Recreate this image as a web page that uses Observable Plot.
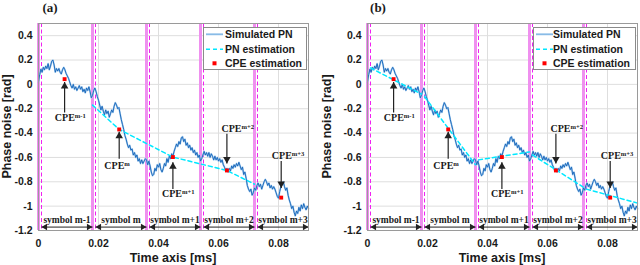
<!DOCTYPE html>
<html><head><meta charset="utf-8">
<script src="https://cdn.jsdelivr.net/npm/d3@7"></script>
<script src="https://cdn.jsdelivr.net/npm/@observablehq/plot@0.6"></script>
<style>
body{margin:0;background:#fff;}
#wrap{position:relative;width:640px;height:265px;overflow:hidden;}
#wrap svg{position:absolute;top:0;}
</style></head><body><div id="wrap"></div>
<script>
const xTicks=[0,0.02,0.04,0.06,0.08];
const yTicks=[-1.2,-1,-0.8,-0.6,-0.4,-0.2,0,0.2,0.4];
const symbolStart=[0,0.018,0.036,0.054,0.072];
const cpEnd=[0.001,0.019,0.037,0.055,0.073];
const symbolEnd=[0.018,0.036,0.054,0.072,0.09];
const symbolNames=["symbol m-1","symbol m","symbol m+1","symbol m+2","symbol m+3"];
const pnTime=[0,0.0004,0.0008,0.0012,0.0016,0.002,0.0024,0.0028,0.0032,0.0036,0.004,0.0044,0.0048,0.0052,0.0056,0.006,0.0064,0.0068,0.0072,0.0076,0.008,0.0084,0.0088,0.0092,0.0096,0.01,0.0104,0.0108,0.0112,0.0116,0.012,0.0124,0.0128,0.0132,0.0136,0.014,0.0144,0.0148,0.0152,0.0156,0.016,0.0164,0.0168,0.0172,0.0176,0.018,0.0184,0.0188,0.0192,0.0196,0.02,0.0204,0.0208,0.0212,0.0216,0.022,0.0224,0.0228,0.0232,0.0236,0.024,0.0244,0.0248,0.0252,0.0256,0.026,0.0264,0.0268,0.0272,0.0276,0.028,0.0284,0.0288,0.0292,0.0296,0.03,0.0304,0.0308,0.0312,0.0316,0.032,0.0324,0.0328,0.0332,0.0336,0.034,0.0344,0.0348,0.0352,0.0356,0.036,0.0364,0.0368,0.0372,0.0376,0.038,0.0384,0.0388,0.0392,0.0396,0.04,0.0404,0.0408,0.0412,0.0416,0.042,0.0424,0.0428,0.0432,0.0436,0.044,0.0444,0.0448,0.0452,0.0456,0.046,0.0464,0.0468,0.0472,0.0476,0.048,0.0484,0.0488,0.0492,0.0496,0.05,0.0504,0.0508,0.0512,0.0516,0.052,0.0524,0.0528,0.0532,0.0536,0.054,0.0544,0.0548,0.0552,0.0556,0.056,0.0564,0.0568,0.0572,0.0576,0.058,0.0584,0.0588,0.0592,0.0596,0.06,0.0604,0.0608,0.0612,0.0616,0.062,0.0624,0.0628,0.0632,0.0636,0.064,0.0644,0.0648,0.0652,0.0656,0.066,0.0664,0.0668,0.0672,0.0676,0.068,0.0684,0.0688,0.0692,0.0696,0.07,0.0704,0.0708,0.0712,0.0716,0.072,0.0724,0.0728,0.0732,0.0736,0.074,0.0744,0.0748,0.0752,0.0756,0.076,0.0764,0.0768,0.0772,0.0776,0.078,0.0784,0.0788,0.0792,0.0796,0.08,0.0804,0.0808,0.0812,0.0816,0.082,0.0824,0.0828,0.0832,0.0836,0.084,0.0844,0.0848,0.0852,0.0856,0.086,0.0864,0.0868,0.0872,0.0876,0.088,0.0884,0.0888,0.0892,0.0896,0.09];
const pnValue=[0.02,0.08,0.125,0.10,0.14,0.12,0.15,0.13,0.17,0.12,0.15,0.19,0.20,0.16,0.10,0.13,0.11,0.13,0.10,0.085,0.12,0.14,0.12,0.09,0.07,0.05,0.02,-0.01,-0.03,0.00,-0.04,-0.02,-0.05,-0.03,-0.01,-0.04,-0.02,-0.06,-0.04,-0.07,-0.03,-0.05,-0.02,-0.06,-0.11,-0.09,-0.05,-0.03,-0.06,-0.10,-0.13,-0.17,-0.21,-0.18,-0.22,-0.25,-0.21,-0.24,-0.22,-0.27,-0.24,-0.21,-0.23,-0.18,-0.15,-0.17,-0.20,-0.19,-0.24,-0.29,-0.33,-0.37,-0.42,-0.45,-0.49,-0.52,-0.50,-0.54,-0.53,-0.58,-0.56,-0.60,-0.58,-0.63,-0.61,-0.65,-0.62,-0.65,-0.63,-0.61,-0.62,-0.66,-0.63,-0.67,-0.72,-0.75,-0.74,-0.69,-0.71,-0.66,-0.68,-0.65,-0.70,-0.72,-0.69,-0.65,-0.67,-0.61,-0.64,-0.59,-0.61,-0.57,-0.59,-0.55,-0.52,-0.49,-0.51,-0.47,-0.49,-0.44,-0.43,-0.47,-0.45,-0.50,-0.48,-0.52,-0.50,-0.54,-0.52,-0.56,-0.54,-0.58,-0.56,-0.60,-0.58,-0.63,-0.61,-0.58,-0.55,-0.58,-0.56,-0.59,-0.56,-0.60,-0.57,-0.59,-0.62,-0.59,-0.62,-0.60,-0.63,-0.61,-0.64,-0.62,-0.66,-0.68,-0.71,-0.69,-0.72,-0.69,-0.71,-0.67,-0.69,-0.66,-0.68,-0.65,-0.67,-0.64,-0.67,-0.70,-0.68,-0.74,-0.72,-0.77,-0.83,-0.86,-0.88,-0.86,-0.91,-0.89,-0.85,-0.87,-0.83,-0.81,-0.84,-0.82,-0.86,-0.83,-0.80,-0.78,-0.80,-0.83,-0.81,-0.85,-0.83,-0.86,-0.84,-0.86,-0.89,-0.92,-0.935,-0.88,-0.84,-0.82,-0.80,-0.84,-0.87,-0.85,-0.91,-0.95,-0.98,-1.02,-1.00,-1.05,-1.08,-1.04,-1.06,-1.01,-1.04,-0.99,-1.02,-0.98,-1.01,-1.03,-1.00,-1.02];
const cpeTime=[0.0087,0.0269,0.0448,0.0628,0.0809];
const cpeValue=[0.043,-0.37,-0.597,-0.707,-0.93];
const cpeNames=["CPE^m-1","CPE^m","CPE^m+1","CPE^m+2","CPE^m+3"];
const labelTime=[0.0106,0.0262,0.0466,0.0664,0.0832];
const labelValue=[-0.277,-0.67,-0.90,-0.365,-0.59];
const arrowTail=[-0.23,-0.61,-0.86,-0.405,-0.63];
const arrowTip=[0.02,-0.39,-0.64,-0.65,-0.85];
const estATime=[0.018,0.0269,0.0448,0.0628,0.072];
const estAValue=[-0.17,-0.37,-0.597,-0.707,-0.82];
const estBTime=[0.001,0.018,0.019,0.036,0.037,0.054,0.055,0.072,0.073,0.09];
const estBValue=[0.135,-0.08,-0.10,-0.66,-0.62,-0.555,-0.58,-0.845,-0.86,-0.975];
const estBSeg=[0,0,1,1,2,2,3,3,4,4];
const legendLabels=["Simulated PN","PN estimation","CPE estimation"];
const panelTitles=["(a)","(b)"];
const xLabel="Time axis [ms]";
const yLabel="Phase noise [rad]";
const symArrowY=-1.172, symLabelY=-1.117;

const pn=pnTime.map((t,i)=>({t,v:pnValue[i]}));
const cpe=cpeTime.map((t,i)=>({t,v:cpeValue[i],name:cpeNames[i],lx:labelTime[i],lv:labelValue[i],tail:arrowTail[i],tip:arrowTip[i]}));
const sym=symbolNames.map((n,i)=>({n,a:cpEnd[i],b:symbolEnd[i]}));
const serif="'Liberation Serif','Times New Roman',serif";
const sans="'Liberation Sans',Arial,sans-serif";
const ink="#1a1a1a";

function panel(which){
  const isA=which===0;
  const ml=isA?38:47, mr=isA?12:3;
  const est=isA?estATime.map((t,i)=>({t,v:estAValue[i],s:0}))
               :estBTime.map((t,i)=>({t,v:estBValue[i],s:estBSeg[i]}));
  const up=cpe.filter(d=>d.tip>d.tail), down=cpe.filter(d=>d.tip<d.tail);
  const svg=Plot.plot({
    width:320,height:265,marginLeft:ml,marginRight:mr,marginTop:23,marginBottom:35,
    style:{fontFamily:sans,fontSize:"10.5px",fontWeight:"bold",background:"transparent",color:ink},
    x:{domain:[0,0.09]},
    y:{domain:[-1.2,0.5]},
    marks:[
      Plot.ruleX(xTicks,{stroke:"#dedede"}),
      Plot.ruleY(yTicks,{stroke:"#dedede"}),
      Plot.ruleX(symbolStart,{stroke:"#ef90ef",strokeWidth:3}),
      Plot.ruleX(cpEnd,{stroke:"#f020f0",strokeWidth:1,strokeDasharray:"4,2.5"}),
      Plot.line(pn,{x:"t",y:"v",stroke:"#a6cdef",strokeWidth:1.8}),
      Plot.line(pn,{x:"t",y:"v",stroke:"#1463b8",strokeWidth:0.9}),
      Plot.line(est,{x:"t",y:"v",z:"s",stroke:"#00e8ff",strokeWidth:1.5,strokeDasharray:"4,3"}),
      Plot.dot(cpe,{x:"t",y:"v",symbol:"square",r:2.2,fill:"#ff0000",stroke:null}),
      Plot.link(cpe,{x1:"t",x2:"t",y1:"tail",y2:"tip",stroke:"#222",strokeWidth:1.2}),
      Plot.dot(up,{x:"t",y:"tip",symbol:"triangle",r:2.8,fill:"#222",stroke:null,dy:4.3}),
      Plot.dot(down,{x:"t",y:"tip",symbol:"triangle",r:2.8,fill:"#222",stroke:null,rotate:180,dy:-4.3}),
      Plot.text(cpe,{x:"lx",y:"lv",text:"name",fontFamily:serif,fontSize:10,fontWeight:"bold",fill:ink}),
      Plot.link(sym,{x1:"a",x2:"b",y1:()=>symArrowY,y2:()=>symArrowY,stroke:"#222",strokeWidth:1}),
      Plot.dot(sym,{x:"a",y:()=>symArrowY,symbol:"triangle",rotate:-90,r:2.4,fill:"#222",stroke:null,dx:3.7}),
      Plot.dot(sym,{x:"b",y:()=>symArrowY,symbol:"triangle",rotate:90,r:2.4,fill:"#222",stroke:null,dx:-3.7}),
      Plot.text(sym,{x:d=>(d.a+d.b)/2,y:()=>symLabelY,text:"n",fontFamily:serif,fontSize:9.5,fontWeight:"bold",fill:ink}),
      Plot.frame({stroke:"#9a9a9a"}),
      Plot.axisX({ticks:xTicks,tickFormat:d=>String(d),tickSize:0,tickPadding:9,label:null}),
      Plot.axisY({ticks:yTicks,tickFormat:d=>String(d),tickSize:0,tickPadding:6,label:null})
    ]
  });
  const s=d3.select(svg);
  s.selectAll("text").each(function(){
    const t=this.textContent;
    if(t.includes("^")){
      const [base,sup]=t.split("^");
      const el=d3.select(this); el.text(null);
      el.append("tspan").text(base);
      el.append("tspan").attr("dy","-0.45em").attr("font-size","0.66em").text(sup);
    }
  });
  const right=320-mr;
  s.append("text").attr("x",isA?50:58).attr("y",7).attr("dy","0.35em").attr("text-anchor","middle")
    .attr("font-family",serif).attr("font-size",13).attr("font-weight","bold").attr("fill",ink).text(panelTitles[which]);
  s.append("text").attr("x",(ml+right)/2).attr("y",258).attr("dy","0.35em").attr("text-anchor","middle")
    .attr("font-family",sans).attr("font-size",12.5).attr("font-weight","bold").attr("fill",ink).text(xLabel);
  s.append("text").attr("transform",`translate(7,126.5) rotate(-90)`).attr("dy","0.35em").attr("text-anchor","middle")
    .attr("font-family",sans).attr("font-size",12.5).attr("font-weight","bold").attr("fill",ink).text(yLabel);
  const bx=isA?203:213, bw=isA?103:102, sx=isA?206:216, tx=isA?225:233;
  const rows=[34.3,49.3,63.3];
  const g=s.append("g");
  g.append("rect").attr("x",bx+0.5).attr("y",27.5).attr("width",bw).attr("height",42).attr("fill","#ffffff").attr("stroke","#8a8a8a").attr("stroke-width",1);
  g.append("line").attr("x1",sx).attr("x2",sx+17).attr("y1",rows[0]).attr("y2",rows[0]).attr("stroke","#a6cdef").attr("stroke-width",2);
  g.append("line").attr("x1",sx).attr("x2",sx+17).attr("y1",rows[0]).attr("y2",rows[0]).attr("stroke","#6aa6dc").attr("stroke-width",0.6);
  g.append("line").attr("x1",sx).attr("x2",sx+17).attr("y1",rows[1]).attr("y2",rows[1]).attr("stroke","#00e8ff").attr("stroke-width",1.5).attr("stroke-dasharray","4,3");
  g.append("rect").attr("x",sx+6.5).attr("y",rows[2]-2).attr("width",4).attr("height",4).attr("fill","#ff0000");
  legendLabels.forEach((l,i)=>{
    g.append("text").attr("x",tx).attr("y",rows[i]).attr("dy","0.35em").attr("text-anchor","start").attr("font-family",sans)
     .attr("font-size",10.5).attr("font-weight","bold").attr("fill",ink).text(l);
  });
  svg.style.left=(isA?0:320)+"px";
  return svg;
}
const wrap=document.getElementById("wrap");
wrap.appendChild(panel(0));
wrap.appendChild(panel(1));
</script></body></html>
